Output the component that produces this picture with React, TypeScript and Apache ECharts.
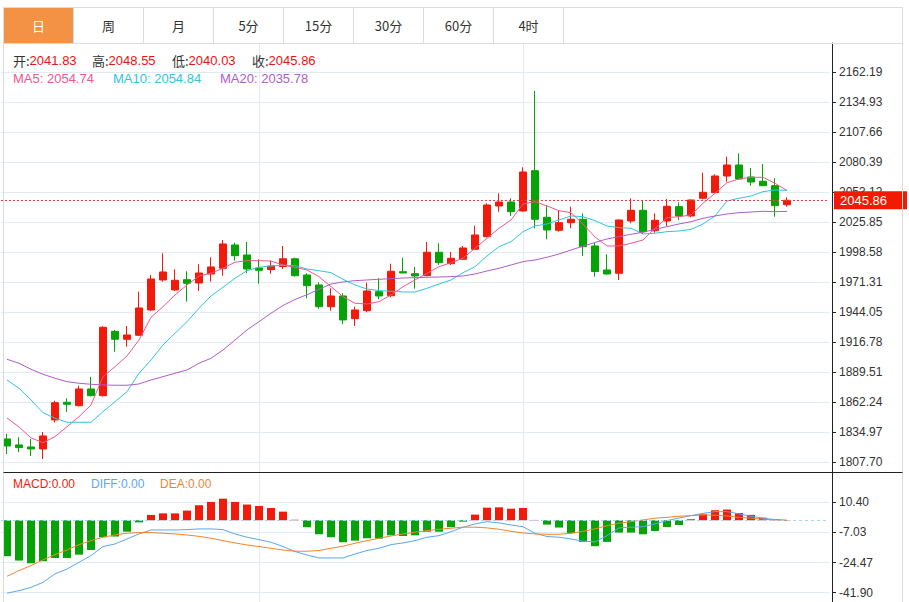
import React, { useEffect, useRef } from "react";
import * as echarts from "echarts";

const tabLabels = ["日", "周", "月", "5分", "15分", "30分", "60分", "4时"];

const categories = [
  "K01","K02","K03","K04","K05","K06","K07","K08","K09","K10",
  "K11","K12","K13","K14","K15","K16","K17","K18","K19","K20",
  "K21","K22","K23","K24","K25","K26","K27","K28","K29","K30",
  "K31","K32","K33","K34","K35","K36","K37","K38","K39","K40",
  "K41","K42","K43","K44","K45","K46","K47","K48","K49","K50",
  "K51","K52","K53","K54","K55","K56","K57","K58","K59","K60",
  "K61","K62","K63","K64","K65","K66","K67","K68","K69",
];

const opens = [
  1828.92, 1823.47, 1821.65, 1819.83, 1846.19, 1862.27, 1859.18, 1874.36, 1868.27, 1926.8,
  1919.53, 1923.17, 1946.16, 1973.42, 1964.34, 1973.7, 1970.7, 1978.88, 1984.06, 2005.23,
  1996.15, 1984.33, 1982.79, 1985.69, 1992.69, 1977.97, 1968.88, 1949.16, 1958.88, 1938.25,
  1945.52, 1962.79, 1959.16, 1980.97, 1979.15, 1977.33, 1998.6, 1988.24, 1992.24, 2001.33,
  2012.78, 2040.68, 2044.31, 2036.13, 2072.76, 2030.41, 2018.59, 2025.5, 2028.59, 2004.33,
  1982.51, 1979.51, 2027.05, 2036.77, 2018.23, 2027.05, 2040.04, 2031.59, 2047.68, 2052.77,
  2067.94, 2077.94, 2067.04, 2063.13, 2059.13, 2041.83,
];
const closes = [
  1822.56, 1821.01, 1819.83, 1831.65, 1861.91, 1860.46, 1874.36, 1868.27, 1930.44, 1919.53,
  1923.44, 1947.98, 1974.33, 1980.7, 1973.15, 1970.43, 1979.79, 1985.24, 2006.14, 1995.51,
  1983.42, 1982.24, 1986.15, 1992.69, 1977.33, 1968.24, 1949.16, 1958.88, 1937.07, 1946.16,
  1963.43, 1958.88, 1981.33, 1979.79, 1977.06, 1998.6, 1989.15, 1993.15, 2002.51, 2014.32,
  2041.59, 2044.31, 2035.5, 2071.58, 2028.59, 2018.87, 2025.5, 2028.59, 2003.69, 1981.15,
  1978.88, 2027.96, 2036.77, 2017.32, 2027.68, 2040.41, 2031.59, 2046.13, 2053.13, 2067.94,
  2077.94, 2065.22, 2062.49, 2059.13, 2040.95, 2045.86,
];
const lows = [
  1815.29, 1816.83, 1813.47, 1810.74, 1844.1, 1853.46, 1858.5, 1867.6, 1867.5, 1908.26,
  1912.8, 1922.5, 1945.25, 1971.88, 1963.6, 1953.7, 1963.43, 1971.88, 1977.33, 1990.97,
  1979.51, 1970.06, 1979.15, 1983.42, 1976.42, 1956.79, 1947.34, 1945.52, 1933.44, 1931.62,
  1944.07, 1955.88, 1957.7, 1979.5, 1965.52, 1976.8, 1987.06, 1987.06, 1991.6, 2000.7,
  2012.2, 2035.5, 2031.59, 2035.5, 2020.41, 2010.41, 2017.32, 2020.41, 1995.24, 1976.42,
  1977.97, 1973.42, 2024.96, 2015.23, 2016.41, 2022.5, 2027.96, 2030.5, 2046.77, 2052.5,
  2062.76, 2064.9, 2059.13, 2058.8, 2030.95, 2040.03,
];
const highs = [
  1833.46, 1830.46, 1828.92, 1835.28, 1863.73, 1865.91, 1877.36, 1885.27, 1931.35, 1927.98,
  1931.62, 1962.79, 1977.97, 1997.69, 1983.15, 1981.33, 1987.69, 1994.05, 2009.78, 2007.32,
  2007.96, 1992.24, 1990.97, 2004.33, 1993.69, 1979.51, 1971.33, 1965.88, 1961.34, 1949.16,
  1970.97, 1974.97, 1988.24, 1993.69, 1985.24, 2007.96, 2006.78, 1998.87, 2004.33, 2022.77,
  2043.13, 2052.22, 2047.68, 2075.85, 2145.2, 2041.59, 2036.13, 2040.04, 2034.04, 2007.05,
  1996.78, 2028.3, 2047.68, 2045.22, 2034.04, 2047.04, 2044.04, 2046.5, 2070.94, 2069.49,
  2085.49, 2088.57, 2075.21, 2078.85, 2065.85, 2048.55,
];

const ma5 = [
  1848.0, 1839.83, 1829.83, 1825.56, 1831.01, 1840.1, 1849.19, 1859.82, 1885.54, 1894.63,
  1904.35, 1918.89, 1939.52, 1949.16, 1959.79, 1968.88, 1977.06, 1979.51, 1984.06, 1989.51,
  1990.97, 1990.97, 1990.6, 1987.06, 1984.79, 1982.51, 1976.42, 1967.34, 1958.25, 1952.25,
  1951.61, 1953.7, 1959.79, 1967.34, 1973.42, 1979.51, 1985.51, 1989.15, 1993.15, 2002.23,
  2011.32, 2020.41, 2027.96, 2042.5, 2044.59, 2040.68, 2036.41, 2034.59, 2024.32, 2012.5,
  2004.33, 2004.33, 2006.78, 2009.78, 2020.41, 2030.05, 2030.95, 2032.5, 2043.13, 2052.22,
  2061.85, 2065.22, 2066.76, 2066.76, 2061.31, 2054.74,
];
const ma10 = [
  1882.54, 1875.0, 1864.36, 1852.82, 1847.73, 1844.1, 1844.1, 1844.1, 1853.73, 1862.82,
  1871.91, 1888.63, 1900.72, 1914.35, 1924.98, 1935.53, 1947.7, 1958.88, 1966.79, 1974.97,
  1981.88, 1984.97, 1986.15, 1986.78, 1986.42, 1983.42, 1981.88, 1980.06, 1974.06, 1968.88,
  1965.25, 1963.7, 1963.15, 1962.52, 1962.52, 1965.88, 1969.79, 1973.42, 1980.06, 1985.51,
  1995.24, 2003.69, 2008.23, 2017.32, 2022.5, 2024.32, 2027.96, 2031.59, 2030.95, 2027.32,
  2022.5, 2020.96, 2020.41, 2015.23, 2015.87, 2017.32, 2017.96, 2019.5, 2024.32, 2031.59,
  2045.22, 2047.68, 2049.77, 2053.68, 2055.22, 2054.84,
];
const ma20 = [
  1901.35, 1897.72, 1892.27, 1887.72, 1884.09, 1881.0, 1879.54, 1878.63, 1878.0, 1877.72,
  1877.72, 1878.9, 1882.54, 1885.54, 1888.63, 1891.63, 1897.72, 1902.26, 1909.81, 1918.89,
  1927.98, 1935.53, 1943.16, 1950.25, 1955.7, 1960.07, 1964.97, 1969.79, 1971.61, 1972.79,
  1973.42, 1974.06, 1974.61, 1975.24, 1975.52, 1975.88, 1976.15, 1976.42, 1977.06, 1978.88,
  1981.6, 1984.06, 1987.06, 1990.06, 1991.6, 1994.06, 1997.05, 2000.69, 2004.14, 2007.51,
  2010.69, 2012.78, 2014.96, 2016.78, 2019.5, 2021.87, 2024.32, 2026.41, 2029.5, 2031.59,
  2033.41, 2034.59, 2035.23, 2035.86, 2035.5, 2035.78,
];

const macdHist = [
  -20.8, -23.3, -24.9, -23.7, -21.8, -21.8, -19.9, -17.2, -9.8, -9.4,
  -6.6, -1.2, 3.1, 4.0, 4.0, 5.6, 8.7, 10.6, 12.5, 10.6,
  9.1, 8.3, 7.1, 5.0, 0.3, -4.0, -8.1, -9.8, -12.7, -11.8,
  -10.4, -10.6, -8.7, -9.1, -8.7, -6.6, -6.6, -4.0, -0.8, 3.3,
  7.3, 7.5, 6.7, 7.1, 0.2, -2.5, -4.2, -7.5, -12.5, -15.0,
  -12.5, -7.1, -7.1, -8.1, -6.2, -3.9, -2.7, 0.6, 3.5, 5.8,
  6.2, 4.2, 3.1, 1.5, 0.6, 0.1,
];
const diffLine = [
  -42.2, -40.7, -38.8, -35.9, -31.0, -28.2, -24.3, -20.4, -15.2, -13.7,
  -10.8, -7.9, -5.6, -5.6, -5.6, -5.4, -5.0, -5.0, -5.4, -7.9,
  -9.8, -11.2, -12.7, -15.2, -18.1, -20.1, -21.8, -21.8, -21.8, -19.5,
  -17.5, -16.2, -14.1, -13.1, -11.8, -9.8, -8.9, -6.6, -4.0, -2.1,
  -0.8, -1.5, -2.7, -3.7, -7.5, -9.4, -9.8, -10.8, -12.1, -12.5,
  -8.9, -4.4, -4.0, -3.7, -2.1, -0.2, 1.3, 2.7, 4.0, 5.0,
  5.0, 3.7, 2.3, 1.2, 0.4, 0.0,
];
const deaLine = [
  -32.4, -29.1, -26.2, -22.9, -19.9, -17.2, -14.1, -11.8, -9.8, -8.5,
  -7.5, -7.1, -7.1, -7.5, -7.9, -8.5, -9.3, -10.4, -11.8, -13.1,
  -14.3, -15.2, -16.2, -17.2, -17.9, -17.9, -17.5, -16.2, -15.0, -13.3,
  -11.8, -10.4, -9.1, -7.9, -6.9, -6.0, -5.2, -4.6, -4.0, -4.0,
  -4.4, -5.2, -6.4, -7.3, -7.9, -8.1, -8.1, -7.5, -6.4, -5.0,
  -3.1, -1.7, -0.8, 0.2, 1.2, 1.7, 2.3, 2.7, 3.1, 2.9,
  2.5, 1.7, 1.2, 0.6, 0.2, 0.0,
];

const priceTicks = [
  2162.19, 2134.93, 2107.66, 2080.39, 2053.12, 2025.85, 1998.58,
  1971.31, 1944.05, 1916.78, 1889.51, 1862.24, 1834.97, 1807.7,
];
const macdTicks = [10.4, -7.03, -24.47, -41.9];
const monthSplitIndexes = [21, 43];

const RED = "#f21a0a";
const GREEN = "#06a306";
const C_MA5 = "#f0578e";
const C_MA10 = "#2ec5dc";
const C_MA20 = "#b15ccb";
const C_DIFF = "#5aa8f0";
const C_DEA = "#f5832c";
const GRID_LINE = "#e1ebf2";
const FONT = "Arial, 'Liberation Sans', 'Noto Sans CJK SC', sans-serif";

export default function App() {
  const ref = useRef<HTMLDivElement>(null);

  useEffect(() => {
    if (!ref.current) return;
    const chart = echarts.init(ref.current, undefined, { renderer: "svg" });
    const last = opens.length - 1;

    const graphics: any[] = [];
    // outer frame
    graphics.push({
      type: "line", silent: true, z: 50,
      shape: { x1: 3.5, y1: 7.5, x2: 3.5, y2: 602 },
      style: { stroke: "#dcdcdc", lineWidth: 1 },
    });
    graphics.push({
      type: "line", silent: true, z: 50,
      shape: { x1: 902.5, y1: 7.5, x2: 902.5, y2: 602 },
      style: { stroke: "#dcdcdc", lineWidth: 1 },
    });
    graphics.push({
      type: "line", silent: true, z: 50,
      shape: { x1: 3.5, y1: 7.5, x2: 902.5, y2: 7.5 },
      style: { stroke: "#dcdcdc", lineWidth: 1 },
    });
    graphics.push({
      type: "line", silent: true, z: 50,
      shape: { x1: 3.5, y1: 43.5, x2: 902.5, y2: 43.5 },
      style: { stroke: "#dcdcdc", lineWidth: 1 },
    });
    graphics.push({
      type: "rect", silent: true, z: 49,
      shape: { x: 4, y: 8, width: 69, height: 35 },
      style: { fill: "#f39144" },
    });
    tabLabels.forEach((t, i) => {
      graphics.push({
        type: "line", silent: true, z: 50,
        shape: { x1: 73.5 + 70 * i, y1: 7.5, x2: 73.5 + 70 * i, y2: 43.5 },
        style: { stroke: "#dcdcdc", lineWidth: 1 },
      });
      graphics.push({
        type: "text", silent: true, z: 51,
        x: 38.5 + 70 * i, y: 25.5,
        style: {
          text: t, fill: i === 0 ? "#ffffff" : "#333333",
          font: "13px 'Noto Sans CJK SC', sans-serif",
          align: "center", verticalAlign: "middle",
        },
      });
    });
    // header OHLC
    const ohlc = [
      ["开", opens[last], 13],
      ["高", highs[last], 92],
      ["低", lows[last], 172],
      ["收", closes[last], 252],
    ] as [string, number, number][];
    ohlc.forEach(([k, v, x]) => {
      graphics.push({
        type: "text", silent: true, z: 51, x, y: 60,
        style: {
          text: `{l|${k}:}{v|${v.toFixed(2)}}`,
          verticalAlign: "middle",
          rich: {
            l: { fill: "#333333", font: "13px 'Noto Sans CJK SC', sans-serif" },
            v: { fill: "#f01010", font: "13px Arial, sans-serif" },
          },
        },
      });
    });
    const maLegend = [
      ["MA5", ma5[last], 13, C_MA5],
      ["MA10", ma10[last], 113, C_MA10],
      ["MA20", ma20[last], 220, C_MA20],
    ] as [string, number, number, string][];
    maLegend.forEach(([k, v, x, c]) => {
      graphics.push({
        type: "text", silent: true, z: 51, x, y: 78,
        style: {
          text: `${k}: ${v.toFixed(2)}`, fill: c,
          font: "13px Arial, sans-serif", verticalAlign: "middle",
        },
      });
    });
    const macdLegend = [
      ["MACD", macdHist[last] * 0, 13, RED],
      ["DIFF", diffLine[last], 91, C_DIFF],
      ["DEA", deaLine[last], 160, C_DEA],
    ] as [string, number, number, string][];
    macdLegend.forEach(([k, v, x, c]) => {
      graphics.push({
        type: "text", silent: true, z: 51, x, y: 484,
        style: {
          text: `${k}:${v.toFixed(2)}`, fill: c,
          font: "12px Arial, sans-serif", verticalAlign: "middle",
        },
      });
    });
    // separator
    graphics.push({
      type: "line", silent: true, z: 50,
      shape: { x1: 3.5, y1: 472.5, x2: 902.5, y2: 472.5 },
      style: { stroke: "#222222", lineWidth: 1 },
    });

    const vLines = {
      silent: true, z: 1, symbol: "none",
      label: { show: false },
      lineStyle: { color: GRID_LINE, type: "solid", width: 1 },
      emphasis: { disabled: true },
      data: monthSplitIndexes.map((i) => ({ xAxis: i })),
    };

    const yAxisCommon = {
      type: "value", position: "right", offset: 3,
      axisLine: { show: true, lineStyle: { color: "#222222" } },
      axisLabel: {
        color: "#333333", fontSize: 12, fontFamily: FONT, margin: 7,
        formatter: (v: number) => v.toFixed(2),
      },
      splitLine: { show: true, lineStyle: { color: GRID_LINE, width: 1 } },
    };

    const option: any = {
      animation: false,
      backgroundColor: "#ffffff",
      grid: [
        { left: 1, top: 43, width: 828, height: 429 },
        { left: 1, top: 472, width: 828, height: 130 },
      ],
      xAxis: [0, 1].map((g) => ({
        type: "category", gridIndex: g, data: categories, boundaryGap: true,
        axisLine: { show: false }, axisTick: { show: false },
        axisLabel: { show: false }, splitLine: { show: false },
      })),
      yAxis: [
        {
          ...yAxisCommon, gridIndex: 0, min: 1798.88, max: 2188.82,
          axisTick: { show: true, length: 4, customValues: priceTicks, lineStyle: { color: "#222222" } },
          axisLabel: { ...yAxisCommon.axisLabel, customValues: priceTicks },
        },
        {
          ...yAxisCommon, gridIndex: 1, min: -47.28, max: 27.93,
          axisTick: { show: true, length: 4, customValues: macdTicks, lineStyle: { color: "#222222" } },
          axisLabel: { ...yAxisCommon.axisLabel, customValues: macdTicks },
        },
      ],
      series: [
        {
          type: "candlestick", xAxisIndex: 0, yAxisIndex: 0, barWidth: 8,
          silent: true,
          data: opens.map((o, i) => [o, closes[i], lows[i], highs[i]]),
          itemStyle: { color: RED, color0: GREEN, borderColor: RED, borderColor0: GREEN, borderWidth: 1 },
          markLine: {
            silent: true, symbol: "none",
            lineStyle: { color: "#f03c3c", type: [2, 2], width: 1 },
            emphasis: { disabled: true },
            label: {
              show: true, position: "end", distance: 5,
              formatter: closes[last].toFixed(2),
              color: "#ffffff", backgroundColor: "#f21a00",
              fontSize: 13, fontFamily: FONT, lineHeight: 14,
              padding: [2, 20, 2, 6],
            },
            data: [{ yAxis: closes[last] }],
          },
        },
        {
          type: "line", xAxisIndex: 0, yAxisIndex: 0, data: ma5, symbol: "none", silent: true,
          lineStyle: { color: C_MA5, width: 1 },
        },
        {
          type: "line", xAxisIndex: 0, yAxisIndex: 0, data: ma10, symbol: "none", silent: true,
          lineStyle: { color: C_MA10, width: 1 },
        },
        {
          type: "line", xAxisIndex: 0, yAxisIndex: 0, data: ma20, symbol: "none", silent: true,
          lineStyle: { color: C_MA20, width: 1 },
          markLine: vLines,
        },
        {
          type: "bar", xAxisIndex: 1, yAxisIndex: 1, data: macdHist, barWidth: 8, silent: true,
          itemStyle: { color: (p: any) => (p.value >= 0 ? RED : GREEN) },
          markLine: {
            silent: true, symbol: "none", label: { show: false },
            emphasis: { disabled: true },
            lineStyle: { color: "#a6d6ef", type: [3, 3], width: 1 },
            data: [{ yAxis: 0 }],
          },
        },
        {
          type: "line", xAxisIndex: 1, yAxisIndex: 1, data: diffLine, symbol: "none", silent: true,
          lineStyle: { color: C_DIFF, width: 1 },
        },
        {
          type: "line", xAxisIndex: 1, yAxisIndex: 1, data: deaLine, symbol: "none", silent: true,
          lineStyle: { color: C_DEA, width: 1 },
          markLine: vLines,
        },
      ],
      graphic: graphics,
    };
    chart.setOption(option);
    return () => chart.dispose();
  }, []);

  return (
    <div
      ref={ref}
      style={{ position: "fixed", left: 0, top: 0, width: 909, height: 602, background: "#fff" }}
    />
  );
}
